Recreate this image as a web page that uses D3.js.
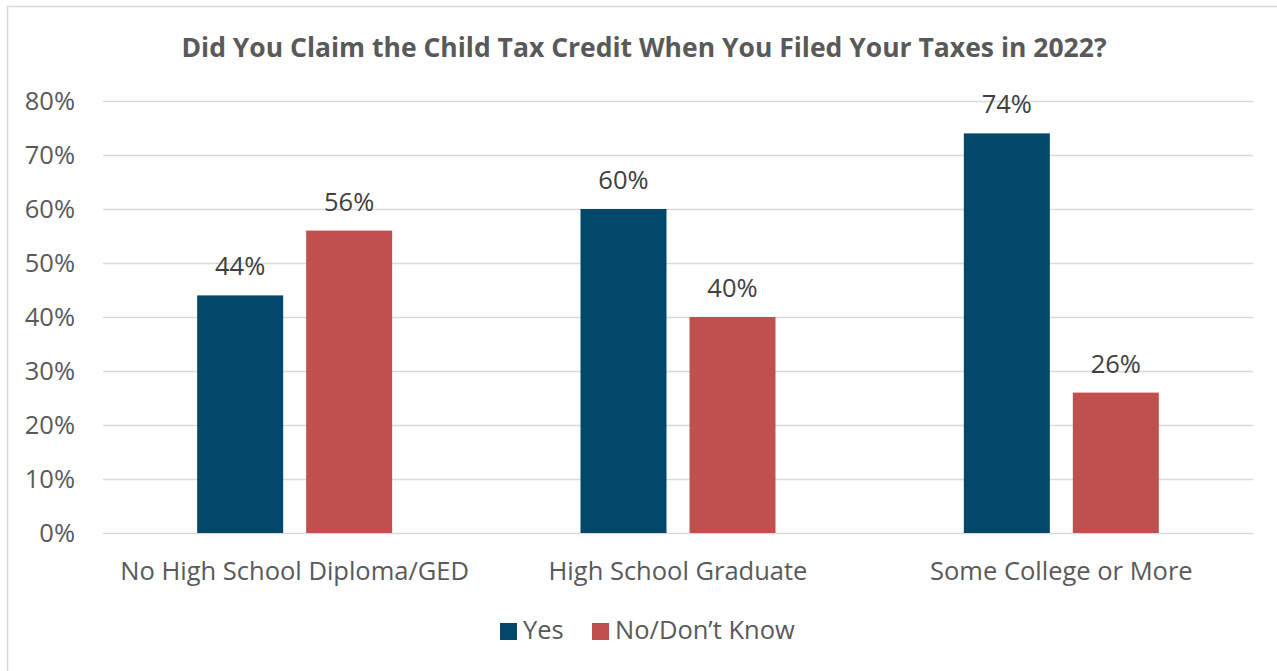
<!DOCTYPE html>
<html>
<head>
<meta charset="utf-8">
<script src="https://cdn.jsdelivr.net/npm/d3@7"></script>
<style>
  html, body { margin: 0; padding: 0; background: #fff; }
  svg text { font-family: "Open Sans", "Noto Sans", sans-serif; }
</style>
</head>
<body>
<svg id="chart" width="1277" height="671"></svg>
<script>
// Survey data
const categories = ["No High School Diploma/GED", "High School Graduate", "Some College or More"];
const seriesNames = ["Yes", "No/Don\u2019t Know"];
const yesValues = [44, 60, 74];
const noValues = [56, 40, 26];
const yTicks = [0, 10, 20, 30, 40, 50, 60, 70, 80];
const colors = ["#03486A", "#C0504D"];

const svg = d3.select("#chart");
const W = 1277, H = 671;
const margin = { left: 103, right: 24, top: 101, bottom: 138 };
const plotW = W - margin.left - margin.right;
const plotH = H - margin.top - margin.bottom;
const fs = 25.5;

// outer frame
svg.append("rect")
  .attr("x", 7.5).attr("y", 6.5)
  .attr("width", W + 10).attr("height", H + 10)
  .attr("fill", "none").attr("stroke", "#D9D9D9").attr("stroke-width", 1.5);

// title
svg.append("text")
  .attr("x", 644).attr("y", 57)
  .attr("text-anchor", "middle")
  .attr("font-size", 26.5).attr("font-weight", "bold")
  .attr("fill", "#595959")
  .text("Did You Claim the Child Tax Credit When You Filed Your Taxes in 2022?");

const g = svg.append("g").attr("transform", `translate(${margin.left},${margin.top})`);

const y = d3.scaleLinear().domain([0, 80]).range([plotH, 0]);
const x0 = d3.scaleBand().domain(categories).range([0, plotW]).paddingInner(0).paddingOuter(0);
const x1 = d3.scaleBand().domain(seriesNames).range([0, x0.bandwidth()]).paddingInner(0.211).paddingOuter(0.864);

// gridlines
g.append("g")
  .selectAll("line")
  .data(yTicks)
  .join("line")
  .attr("x1", 0).attr("x2", plotW)
  .attr("y1", d => Math.round(y(d)) + 0.5).attr("y2", d => Math.round(y(d)) + 0.5)
  .attr("stroke", "#D9D9D9").attr("stroke-width", 1.5);

// y axis labels
const yAxis = d3.axisLeft(y).tickValues(yTicks).tickFormat(d => d + "%").tickSize(0).tickPadding(28);
const ya = g.append("g").call(yAxis);
ya.select(".domain").remove();
ya.selectAll("text").attr("font-size", fs).attr("fill", "#595959")
  .attr("font-family", "\"Open Sans\", sans-serif").attr("dy", "0.35em");

// bars
const rows = categories.map((c, i) => ({ cat: c, vals: [yesValues[i], noValues[i]] }));
const groups = g.selectAll(".grp").data(rows).join("g")
  .attr("transform", d => `translate(${x0(d.cat)},0)`);

groups.selectAll("rect")
  .data(d => d.vals.map((v, j) => ({ key: seriesNames[j], v, j })))
  .join("rect")
  .attr("x", d => x1(d.key))
  .attr("width", x1.bandwidth())
  .attr("y", d => y(d.v))
  .attr("height", d => y(0) - y(d.v))
  .attr("fill", d => colors[d.j]);

groups.selectAll(".lbl")
  .data(d => d.vals.map((v, j) => ({ key: seriesNames[j], v, j })))
  .join("text")
  .attr("class", "lbl")
  .attr("x", d => x1(d.key) + x1.bandwidth() / 2)
  .attr("y", d => y(d.v) - 20)
  .attr("text-anchor", "middle")
  .attr("font-size", fs).attr("fill", "#404040")
  .text(d => d.v + "%");

// x axis labels
const xAxis = d3.axisBottom(x0).tickSize(0).tickPadding(29);
const xa = g.append("g").attr("transform", `translate(0,${plotH})`).call(xAxis);
xa.select(".domain").remove();
xa.selectAll("text").attr("font-size", fs).attr("fill", "#595959")
  .attr("font-family", "\"Open Sans\", sans-serif");

// legend
const legend = svg.append("g").attr("transform", "translate(500,623)");
const items = [{ name: seriesNames[0], x: 0 }, { name: seriesNames[1], x: 92 }];
items.forEach((it, i) => {
  legend.append("rect").attr("x", it.x).attr("y", 0).attr("width", 17).attr("height", 17).attr("fill", colors[i]);
  legend.append("text").attr("x", it.x + 23).attr("y", 16)
    .attr("font-size", fs).attr("fill", "#595959").text(it.name);
});
</script>
</body>
</html>
